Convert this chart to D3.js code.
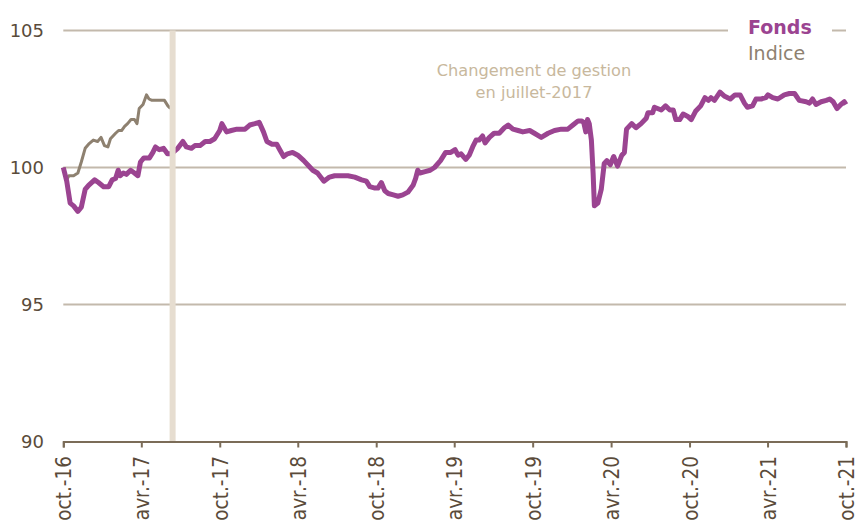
<!DOCTYPE html>
<html>
<head>
<meta charset="utf-8">
<script src="https://cdn.jsdelivr.net/npm/d3@7"></script>
<style>
  body { margin: 0; background: #fff; }
  svg { display: block; font-family: "DejaVu Sans", Verdana, sans-serif; }
</style>
</head>
<body>
<div class="chart"></div>
<script>
// Data
var fondsDates = ["2016-10-01","2016-10-09","2016-10-17","2016-10-25","2016-11-04","2016-11-12","2016-11-21","2016-11-29","2016-12-13","2016-12-22",
  "2017-01-03","2017-01-15","2017-01-23","2017-01-31","2017-02-06","2017-02-11","2017-02-18","2017-02-25","2017-03-07","2017-03-16",
  "2017-03-24","2017-03-30","2017-04-07","2017-04-20","2017-04-28","2017-05-04","2017-05-13","2017-05-23","2017-06-01","2017-06-10",
  "2017-06-25","2017-07-07","2017-07-15","2017-07-27","2017-08-04","2017-08-16","2017-08-28","2017-09-08","2017-09-19","2017-10-01",
  "2017-10-06","2017-10-17","2017-10-28","2017-11-10","2017-11-29","2017-12-10","2017-12-22","2018-01-01","2018-01-11","2018-01-19",
  "2018-01-31","2018-02-11","2018-02-18","2018-02-27","2018-03-08","2018-03-20","2018-04-01","2018-04-15","2018-04-24","2018-05-06",
  "2018-05-17","2018-06-01","2018-06-14","2018-06-26","2018-07-11","2018-07-27","2018-08-12","2018-08-28","2018-09-08","2018-09-16",
  "2018-09-28","2018-10-05","2018-10-13","2018-10-21","2018-10-29","2018-11-10","2018-11-21","2018-12-02","2018-12-14","2018-12-26",
  "2019-01-01","2019-01-06","2019-01-11","2019-01-23","2019-02-04","2019-02-14","2019-02-28","2019-03-12","2019-03-24","2019-04-03",
  "2019-04-10","2019-04-17","2019-04-28","2019-05-06","2019-05-14","2019-05-22","2019-05-29","2019-06-06","2019-06-12","2019-06-22",
  "2019-07-03","2019-07-15","2019-07-27","2019-08-05","2019-08-16","2019-08-28","2019-09-08","2019-09-24","2019-10-05","2019-10-21",
  "2019-11-06","2019-11-21","2019-12-07","2019-12-22","2020-01-03","2020-01-15","2020-01-23","2020-01-28","2020-02-02","2020-02-06",
  "2020-02-10","2020-02-15","2020-02-19","2020-02-22","2020-03-01","2020-03-09","2020-03-16","2020-03-22","2020-03-30","2020-04-07",
  "2020-04-16","2020-04-26","2020-05-02","2020-05-07","2020-05-19","2020-05-29","2020-06-10","2020-06-22","2020-06-26","2020-07-07",
  "2020-07-11","2020-07-27","2020-08-06","2020-08-16","2020-08-24","2020-08-30","2020-09-08","2020-09-16","2020-09-28","2020-10-05",
  "2020-10-15","2020-10-27","2020-11-06","2020-11-14","2020-11-20","2020-11-28","2020-12-11","2020-12-22","2021-01-04","2021-01-15",
  "2021-01-27","2021-02-06","2021-02-13","2021-02-25","2021-03-05","2021-03-17","2021-03-28","2021-04-02","2021-04-13","2021-04-25",
  "2021-05-10","2021-05-22","2021-06-03","2021-06-14","2021-06-30","2021-07-08","2021-07-15","2021-07-23","2021-08-04","2021-08-16",
  "2021-08-24","2021-09-01","2021-09-10","2021-09-19","2021-09-27","2021-10-01"];
var fondsValues = [100.0,99.5,98.7,98.6,98.4,98.55,99.2,99.35,99.55,99.45,
  99.3,99.3,99.55,99.6,99.9,99.7,99.8,99.75,99.9,99.8,
  99.7,100.2,100.35,100.35,100.55,100.75,100.65,100.7,100.5,100.5,
  100.7,100.95,100.75,100.7,100.8,100.8,100.95,100.95,101.05,101.35,
  101.6,101.3,101.35,101.4,101.4,101.55,101.6,101.65,101.3,100.95,
  100.85,100.85,100.65,100.4,100.5,100.55,100.45,100.25,100.1,99.9,
  99.8,99.5,99.65,99.7,99.7,99.7,99.65,99.55,99.5,99.3,
  99.25,99.25,99.45,99.15,99.05,99.0,98.95,99.0,99.1,99.35,
  99.6,99.9,99.8,99.85,99.9,100.0,100.25,100.55,100.55,100.65,
  100.45,100.5,100.3,100.45,100.75,101.0,101.0,101.15,100.9,101.1,
  101.25,101.25,101.45,101.55,101.4,101.35,101.3,101.35,101.25,101.1,
  101.25,101.35,101.4,101.4,101.55,101.7,101.7,101.65,101.3,101.75,
  101.6,101.0,99.8,98.6,98.7,99.2,100.15,100.25,100.1,100.4,
  100.05,100.45,100.55,101.4,101.6,101.45,101.6,101.8,102.0,102.0,
  102.2,102.1,102.25,102.1,102.1,101.75,101.75,101.95,101.85,101.75,
  102.05,102.25,102.55,102.45,102.55,102.45,102.75,102.6,102.5,102.65,
  102.65,102.35,102.2,102.25,102.5,102.5,102.55,102.65,102.55,102.5,
  102.65,102.7,102.7,102.45,102.4,102.35,102.5,102.3,102.4,102.45,
  102.5,102.4,102.15,102.3,102.4,102.3];

var indiceDates = ["2016-10-01","2016-10-09","2016-10-14","2016-10-25","2016-11-04","2016-11-12","2016-11-21","2016-11-29","2016-12-10","2016-12-20",
  "2016-12-28","2017-01-05","2017-01-13","2017-01-19","2017-01-31","2017-02-07","2017-02-14","2017-02-21","2017-02-28","2017-03-08",
  "2017-03-16","2017-03-22","2017-03-27","2017-04-05","2017-04-13","2017-04-19","2017-04-26","2017-05-06","2017-05-17","2017-05-25",
  "2017-06-02","2017-06-08"];
var indiceValues = [100.0,99.55,99.7,99.7,99.8,100.2,100.7,100.85,101.0,100.95,
  101.1,100.8,100.75,101.05,101.25,101.35,101.35,101.5,101.6,101.75,
  101.75,101.6,102.15,102.3,102.65,102.5,102.45,102.45,102.45,102.45,
  102.25,102.15];

var tickDates = ["2016-10-01","2017-04-01","2017-10-01","2018-04-01","2018-10-01","2019-04-01",
  "2019-10-01","2020-04-01","2020-10-01","2021-04-01","2021-10-01"];
var tickLabels = ["oct.-16","avr.-17","oct.-17","avr.-18","oct.-18","avr.-19",
  "oct.-19","avr.-20","oct.-20","avr.-21","oct.-21"];
var yTicks = [90, 95, 100, 105];
var changeDate = "2017-06-13";
var changeText = ["Changement de gestion", "en  juillet-2017"];
var seriesNames = ["Fonds", "Indice"];

var svgWidth = 856;
var svgHeight = 521;
var margin = { top: 30.5, right: 10, bottom: 79.5, left: 63.3 };
var parse = d3.timeParse("%Y-%m-%d");

var svg = d3.select(".chart")
  .append("svg")
  .attr("width", svgWidth)
  .attr("height", svgHeight);

var x = d3.scaleTime()
  .domain([parse("2016-10-01"), parse("2021-10-01")])
  .range([margin.left, 846]);

var y = d3.scaleLinear()
  .domain([90, 105])
  .range([svgHeight - margin.bottom, margin.top]);

var fonds = fondsDates.map((d, i) => ({ date: parse(d), value: fondsValues[i] }));
var indice = indiceDates.map((d, i) => ({ date: parse(d), value: indiceValues[i] }));

// gridlines
svg.append("g")
  .selectAll("line")
  .data(yTicks.filter(v => v > 90))
  .enter()
  .append("line")
  .attr("x1", margin.left)
  .attr("x2", 846)
  .attr("y1", d => y(d))
  .attr("y2", d => y(d))
  .attr("stroke", "#c3b9ac")
  .attr("stroke-width", 2);

// y labels
svg.append("g")
  .selectAll("text")
  .data(yTicks)
  .enter()
  .append("text")
  .attr("x", 44)
  .attr("y", d => y(d))
  .attr("dy", "0.36em")
  .attr("text-anchor", "end")
  .attr("font-size", "18px")
  .attr("fill", "#5a4b3a")
  .text(d => d);

// lines
var line = d3.line()
  .x(d => x(d.date))
  .y(d => y(d.value));

svg.append("path")
  .datum(indice)
  .attr("fill", "none")
  .attr("stroke", "#8e8170")
  .attr("stroke-width", 3)
  .attr("stroke-linejoin", "round")
  .attr("d", line);

svg.append("path")
  .datum(fonds)
  .attr("fill", "none")
  .attr("stroke", "#9b4491")
  .attr("stroke-width", 5)
  .attr("stroke-linejoin", "round")
  .attr("d", line);

// management change band
svg.append("rect")
  .attr("x", x(parse(changeDate)) - 3)
  .attr("y", y(105))
  .attr("width", 6)
  .attr("height", y(90) - y(105))
  .attr("fill", "#e6ddd0");

// x axis
var xAxis = d3.axisBottom(x)
  .tickValues(tickDates.map(parse))
  .tickSize(6)
  .tickFormat((d, i) => tickLabels[i]);

var xg = svg.append("g")
  .attr("transform", `translate(0, ${y(90)})`)
  .call(xAxis);

xg.select(".domain").attr("stroke", "#7b6c58").attr("stroke-width", 2);
xg.selectAll(".tick line").attr("stroke", "#7b6c58").attr("stroke-width", 2);
xg.selectAll(".tick text")
  .attr("transform", "rotate(-90) scale(0.88,1)")
  .attr("text-anchor", "end")
  .attr("x", -16.5)
  .attr("y", 0)
  .attr("dy", "0.36em")
  .attr("font-size", "21px")
  .attr("font-family", "DejaVu Sans, sans-serif")
  .attr("fill", "#5a4b3a");

// annotation
svg.append("text")
  .attr("x", 534)
  .attr("y", 76)
  .attr("text-anchor", "middle")
  .attr("font-size", "16.2px")
  .attr("fill", "#c8b89d")
  .selectAll("tspan")
  .data(changeText)
  .enter()
  .append("tspan")
  .attr("x", 534)
  .attr("dy", (d, i) => i ? 22 : 0)
  .text(d => d);

// legend
svg.append("rect")
  .attr("x", 728)
  .attr("y", 14)
  .attr("width", 104)
  .attr("height", 52)
  .attr("fill", "#fff");

svg.append("text")
  .attr("x", 748)
  .attr("y", 34)
  .attr("font-size", "19px")
  .attr("font-weight", "bold")
  .attr("fill", "#9b4491")
  .text(seriesNames[0]);

svg.append("text")
  .attr("x", 748)
  .attr("y", 60)
  .attr("font-size", "19px")
  .attr("fill", "#8e8170")
  .text(seriesNames[1]);
</script>
</body>
</html>
